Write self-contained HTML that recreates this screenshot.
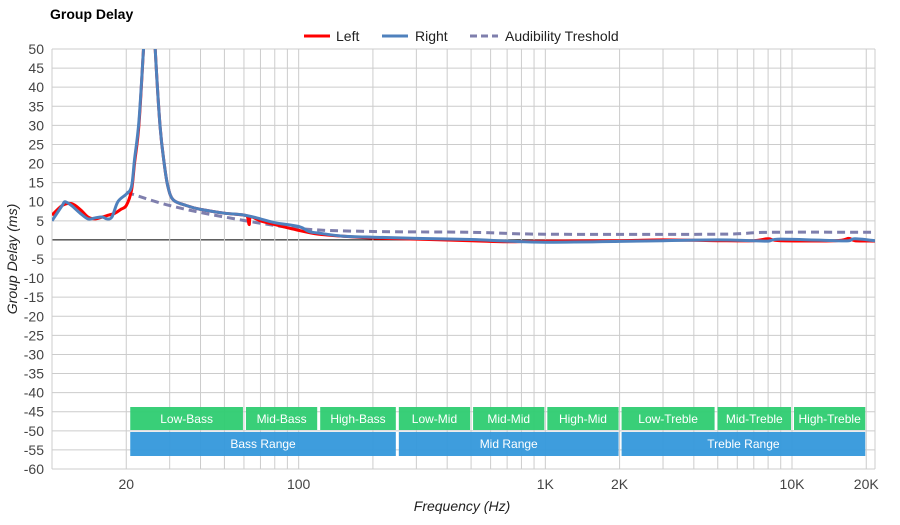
<!DOCTYPE html>
<html><head><meta charset="utf-8"><style>
body{margin:0;background:#fff;font-family:"Liberation Sans",Arial,sans-serif}
svg text{font-family:"Liberation Sans",Arial,sans-serif}
</style></head><body>
<svg id="chart" width="900" height="520" xmlns="http://www.w3.org/2000/svg">
<rect width="900" height="520" fill="#fff"/>
<text x="50" y="19" font-size="14" font-weight="bold" fill="#000">Group Delay</text>
<g id="grid"></g><g id="bands"></g><g id="series"></g><g id="axes"></g>
<g>
<g><line x1="304" y1="36" x2="330" y2="36" stroke="#ff0000" stroke-width="3"/><text x="336" y="41" font-size="14" fill="#222">Left</text></g>
<g><line x1="382" y1="36" x2="408" y2="36" stroke="#4f81bd" stroke-width="3"/><text x="415" y="41" font-size="14" fill="#222">Right</text></g>
<g><line x1="470" y1="36" x2="498" y2="36" stroke="#7f7fad" stroke-width="3" stroke-dasharray="7,4"/><text x="505" y="41" font-size="14" fill="#222">Audibility Treshold</text></g>
</g>
<text x="462" y="511" font-size="14" font-style="italic" text-anchor="middle" fill="#222">Frequency (Hz)</text>
<text transform="translate(17,259) rotate(-90)" font-size="14" font-style="italic" text-anchor="middle" fill="#222">Group Delay (ms)</text>
</svg>
<script>
const leftFreq=[10,11,12,13,14,15,16,17,18,19,20,21,21.6,22.5,23.5,24.5,25.3,26.2,27.4,28.5,29.5,31,35,40,50,60,62,63,64,70,80,100,120,150,200,300,500,700,1000,2000,3000,5000,7000,8000,9000,15000,17000,18000,21700];
const leftVals=[6.5,9,9.5,8,6,5.5,6,6.5,7,8,9,13,20,30,50,70,70,50,30,20,14,10.5,9,8,7,6.5,6,4,6,5,4,2.5,1.5,1,0.5,0.2,-0.2,-0.5,-0.3,-0.2,0,-0.2,-0.2,0.3,-0.2,-0.2,0.4,-0.2,-0.3];
const rightFreq=[10,11,11.3,12,13,14,15,16,16.7,17.5,18.5,20,21,21.6,22.5,23.5,24.5,25.3,26.2,27.4,28.5,29.5,31,35,40,50,60,70,80,100,110,120,150,200,300,500,700,1000,2000,3000,5000,7000,8000,9000,15000,17000,18000,21700];
const rightVals=[5,9,10,9,7,5.5,5.8,6,5.5,6,10,12,14,21,31,50,70,70,50,30,20,14,10.5,9,8,7,6.5,5.5,4.5,3.5,2.2,1.8,1,0.7,0.4,0.1,-0.3,-0.6,-0.4,-0.2,0,-0.2,-0.3,0.2,-0.2,-0.2,0.3,-0.2,-0.3];
const audFreq=[20,30,50,100,200,500,1000,5000,8000,21700];
const audVals=[12.5,9,6,3,2.2,2,1.5,1.5,2,2];
const yTicks=[50,45,40,35,30,25,20,15,10,5,0,-5,-10,-15,-20,-25,-30,-35,-40,-45,-50,-55,-60];
const xTickVals=[20,100,1000,2000,10000,20000];
const xTickLabels=["20","100","1K","2K","10K","20K"];
const bandNames=["Low-Bass","Mid-Bass","High-Bass","Low-Mid","Mid-Mid","High-Mid","Low-Treble","Mid-Treble","High-Treble"];
const bandEdges=[20,60,120,250,500,1000,2000,4900,10000,20000];
const rangeNames=["Bass Range","Mid Range","Treble Range"];
const rangeEdges=[20,250,2000,20000];

const X0=52,X1=875,Y0=49,Y1=469,FMIN=10,FMAX=21700,VMAX=50,VMIN=-60;
const ns="http://www.w3.org/2000/svg";
const x=f=>X0+(Math.log10(f)-Math.log10(FMIN))/(Math.log10(FMAX)-Math.log10(FMIN))*(X1-X0);
const y=v=>Y0+(VMAX-v)/(VMAX-VMIN)*(Y1-Y0);
function mk(t,a,p){const e=document.createElementNS(ns,t);for(const k in a)e.setAttribute(k,a[k]);p.appendChild(e);return e;}
const grid=document.getElementById('grid'),axes=document.getElementById('axes'),bands=document.getElementById('bands'),series=document.getElementById('series');
yTicks.forEach(v=>{
 const l=mk('line',{x1:X0,x2:X1,y1:y(v),y2:y(v),stroke:v===0?'#000':'#ccc','stroke-width':1},grid);
 
 
 const t=mk('text',{x:44,y:y(v)+5,'font-size':14,'text-anchor':'end',fill:'#444'},axes);
 t.textContent=v;
 
 
});
for(let d=10;d<=10000;d*=10){for(let m=1;m<=9;m++){const f=d*m;if(f<FMIN||f>FMAX)continue;
 const l=mk('line',{x1:x(f),x2:x(f),y1:Y0,y2:Y1,stroke:'#ccc','stroke-width':1},grid);
 
 }}
{const l=mk('line',{x1:X1,x2:X1,y1:Y0,y2:Y1,stroke:'#ccc'},grid);}
xTickVals.forEach((f,i)=>{
 const t=mk('text',{x:x(f),y:489,'font-size':14,'text-anchor':'middle',fill:'#444'},axes);
 t.textContent=xTickLabels[i];
 
 
});
bandNames.forEach((n,i)=>{
 const a=x(bandEdges[i])+(i===0?4:2),b=x(bandEdges[i+1])-1;
 const r=mk('rect',{x:a,y:407,width:b-a,height:23,fill:'#2ecc71','fill-opacity':0.95},bands);
 
 
 const t=mk('text',{x:(a+b)/2,y:423,'font-size':12,'text-anchor':'middle',fill:'#fff'},bands);
 t.textContent=n;
 
 
});
rangeNames.forEach((n,i)=>{
 const a=x(rangeEdges[i])+(i===0?4:2),b=x(rangeEdges[i+1])-1;
 const r=mk('rect',{x:a,y:432,width:b-a,height:24,fill:'#3498db','fill-opacity':0.95},bands);
 
 
 const t=mk('text',{x:(a+b)/2,y:448,'font-size':12,'text-anchor':'middle',fill:'#fff'},bands);
 t.textContent=n;
 
 
});
const cp=mk('clipPath',{id:'clip'},series);
mk('rect',{x:X0,y:Y0,width:X1-X0,height:Y1-Y0},cp);
function smooth(P){
 let d='M'+P[0][0].toFixed(1)+','+P[0][1].toFixed(1);
 for(let i=0;i<P.length-1;i++){
  const p0=P[Math.max(0,i-1)],p1=P[i],p2=P[i+1],p3=P[Math.min(P.length-1,i+2)];
  const c1=[p1[0]+(p2[0]-p0[0])/6,p1[1]+(p2[1]-p0[1])/6],c2=[p2[0]-(p3[0]-p1[0])/6,p2[1]-(p3[1]-p1[1])/6];
  d+='C'+c1.map(v=>v.toFixed(1)).join(',')+' '+c2.map(v=>v.toFixed(1)).join(',')+' '+p2[0].toFixed(1)+','+p2[1].toFixed(1);
 }
 return d;
}
function line(F,V,color,dash,name){
 const d=smooth(F.map((f,i)=>[x(f),y(V[i])]));
 const p=mk('path',{d:d,fill:'none',stroke:color,'stroke-width':3,'stroke-linejoin':'round','clip-path':'url(#clip)'},series);
 if(dash)p.setAttribute('stroke-dasharray',dash);
 
 
}
line(audFreq,audVals,'#7f7fad','8,5','audibility-threshold-line');
line(leftFreq,leftVals,'#ff0000',null,'left-line');
line(rightFreq,rightVals,'#4f81bd',null,'right-line');
</script>
</body></html>
